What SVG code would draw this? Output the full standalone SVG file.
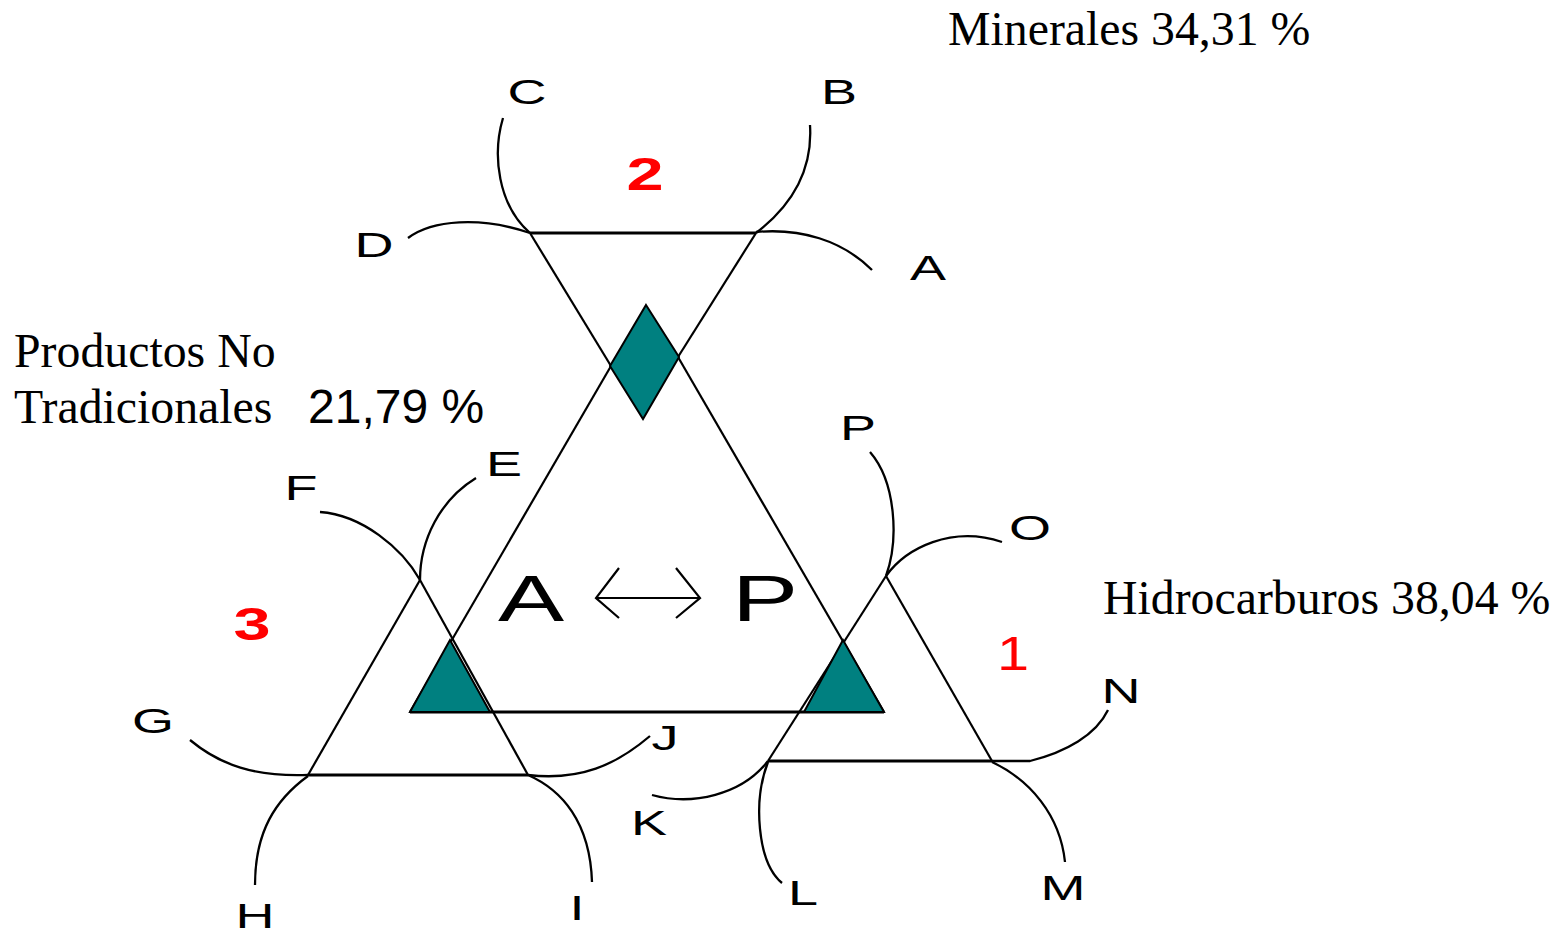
<svg xmlns="http://www.w3.org/2000/svg" width="1562" height="934" viewBox="0 0 1562 934">
<style>
.ln{stroke:#000;stroke-width:2.2;fill:none}
.hz{stroke:#000;stroke-width:3.2;fill:none}
.cv{stroke:#000;stroke-width:2.3;fill:none}
.tl{fill:#008080;stroke:#000;stroke-width:2}
.lab{font-family:"Liberation Sans",Arial,sans-serif;font-size:36px;fill:#000;text-anchor:middle}
.big{font-family:"Liberation Sans",Arial,sans-serif;font-size:64px;fill:#000;text-anchor:middle}
.num{font-family:"Liberation Sans",Arial,sans-serif;font-size:46px;font-weight:bold;fill:#ff0000;text-anchor:middle}
.one{font-family:"Liberation Sans",Arial,sans-serif;font-size:48px;font-weight:normal;fill:#ff0000;text-anchor:middle}
.tm{font-family:"Liberation Serif","Times New Roman",serif;font-size:47.8px;fill:#000}
.ar{font-family:"Liberation Sans",Arial,sans-serif;font-size:48px;fill:#000}
</style>
<rect width="1562" height="934" fill="#fff"/>
<g id="connectors">
<line class="hz" x1="530" y1="233" x2="756" y2="233"/>
<line class="hz" x1="410" y1="712" x2="884" y2="712"/>
<line class="hz" x1="308" y1="775" x2="528" y2="775"/>
<line class="hz" x1="768" y1="761" x2="992" y2="761"/>
<line class="ln" x1="530" y1="233" x2="611" y2="366"/>
<line class="ln" x1="678" y1="357" x2="884" y2="712"/>
<line class="ln" x1="756" y1="233" x2="678" y2="357"/>
<line class="ln" x1="611" y1="366" x2="410" y2="712"/>
<line class="ln" x1="308" y1="775" x2="420" y2="580"/>
<line class="ln" x1="528" y1="775" x2="420" y2="580"/>
<line class="ln" x1="768" y1="761" x2="886" y2="576"/>
<line class="ln" x1="992" y1="761" x2="886" y2="576"/>
<path class="cv" d="M503,118 C492,155 498,205 530,233"/>
<path class="cv" d="M408,238 C432,220 480,216 530,233"/>
<path class="cv" d="M810,125 C813,172 790,207 756,233"/>
<path class="cv" d="M756,232 C800,228 842,240 872,270"/>
<path class="cv" d="M476,478 C440,500 420,540 420,580"/>
<path class="cv" d="M320,512 C362,515 402,548 420,580"/>
<path class="cv" d="M190,740 C220,765 255,777 308,775"/>
<path class="cv" d="M308,776 C275,800 255,832 255,885"/>
<path class="cv" d="M528,775 C562,790 590,822 592,882"/>
<path class="cv" d="M528,775 C580,781 616,765 650,736"/>
<path class="cv" d="M652,795 C692,806 742,795 768,761"/>
<path class="cv" d="M768,762 C753,800 757,862 782,883"/>
<path class="cv" d="M992,761 L1030,761 C1066,752 1096,735 1108,710"/>
<path class="cv" d="M992,762 C1030,780 1060,815 1065,862"/>
<path class="cv" d="M870,452 C896,482 899,540 886,576"/>
<path class="cv" d="M886,576 C906,548 952,525 1002,542"/>
<line class="ln" x1="596" y1="598" x2="700" y2="598" stroke-width="3"/>
<polyline class="ln" points="619,568 596,598 619,618"/>
<polyline class="ln" points="676,568 700,598 676,618"/>
</g>
<g id="shapes">
<polygon id="diamond" class="tl" points="646,305 679,357 643,419 610,366"/>
<polygon id="tri-left" class="tl" points="450,640 410,712 490,712"/>
<polygon id="tri-right" class="tl" points="843,640 804,712 884,712"/>
</g>
<g id="labels">
<text class="lab" transform="translate(527,104) scale(1.5,1)">C</text>
<text class="lab" transform="translate(839,104) scale(1.5,1)">B</text>
<text class="lab" transform="translate(374,257) scale(1.5,1)">D</text>
<text class="lab" transform="translate(928,280) scale(1.5,1)">A</text>
<text class="lab" transform="translate(858,440) scale(1.5,1)">P</text>
<text class="lab" transform="translate(504,476) scale(1.5,1)">E</text>
<text class="lab" transform="translate(301,500) scale(1.5,1)">F</text>
<text class="lab" transform="translate(1030,540) scale(1.5,1)">O</text>
<text class="lab" transform="translate(153,733) scale(1.5,1)">G</text>
<text class="lab" transform="translate(665,750) scale(1.5,1)">J</text>
<text class="lab" transform="translate(1121,703) scale(1.5,1)">N</text>
<text class="lab" transform="translate(649,835) scale(1.5,1)">K</text>
<text class="lab" transform="translate(255,928) scale(1.5,1)">H</text>
<text class="lab" transform="translate(577,920) scale(1.5,1)">I</text>
<text class="lab" transform="translate(803,905) scale(1.5,1)">L</text>
<text class="lab" transform="translate(1063,900) scale(1.5,1)">M</text>
<text class="big" transform="translate(531,621) scale(1.55,1)">A</text>
<text class="big" transform="translate(765,621) scale(1.55,1)">P</text>
<text class="num" transform="translate(645,190) scale(1.45,1)">2</text>
<text class="num" transform="translate(252,640) scale(1.45,1)">3</text>
<text class="one" transform="translate(1013,670) scale(1.2,1)">1</text>
</g>
<g id="texts">
<text class="tm" x="948" y="45">Minerales 34,31 %</text>
<text class="tm" x="14" y="367">Productos No</text>
<text class="tm" x="14" y="423">Tradicionales</text>
<text class="ar" x="308" y="423">21,79 %</text>
<text class="tm" x="1103" y="614">Hidrocarburos 38,04 %</text>
</g>
</svg>
